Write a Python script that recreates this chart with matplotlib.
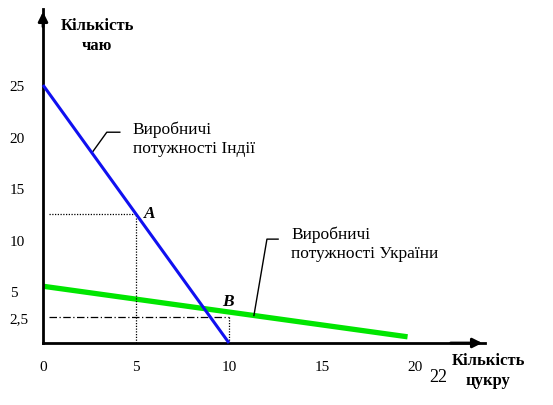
import numpy as np
import matplotlib.pyplot as plt

plt.rcParams['font.family'] = ['Liberation Serif', 'DejaVu Serif']

# production possibility lines (sugar on x, tea on y)
india_x = [0, 10]
india_y = [25, 0]
ukraine_x = [0, 19.6]
ukraine_y = [5.5, 0.6]

point_a = (5, 12.5)
point_b = (10, 2.5)

xticks = [0, 5, 10, 15, 20]
yticks = [2.5, 5, 10, 15, 20, 25]
ytick_labels = ['2,5', '5', '10', '15', '20', '25']

W, H = 553, 406
fig = plt.figure(figsize=(W / 100, H / 100), dpi=100)
ax = fig.add_axes([0, 0, 1, 1])

# pixel mapping of the reference: x=0 -> 43px, x=10 -> 229px; y=0 -> 344px, y=25 -> 86px
px_x = (229 - 43) / 10
px_y = (344 - 86) / 25
ax.set_xlim(-43 / px_x, (W - 43) / px_x)
ax.set_ylim(-(H - 344) / px_y, 344 / px_y)
x_end = (485 - 43) / px_x
y_end = (344 - 10) / px_y

for s in ['top', 'right']:
    ax.spines[s].set_visible(False)
ax.spines['left'].set_position(('data', 0))
ax.spines['bottom'].set_position(('data', 0))
ax.spines['left'].set_bounds(0, y_end)
ax.spines['bottom'].set_bounds(0, x_end)
ax.spines['left'].set_linewidth(2)
ax.spines['bottom'].set_linewidth(2)
ax.annotate('', xy=(0, y_end), xytext=(0, y_end - 2),
            arrowprops=dict(arrowstyle='-|>', color='black', lw=2, mutation_scale=14))
ax.annotate('', xy=(x_end, 0), xytext=(x_end - 2, 0),
            arrowprops=dict(arrowstyle='-|>', color='black', lw=2, mutation_scale=14))

ax.set_xticks(xticks)
ax.set_xticklabels([str(v) for v in xticks])
ax.set_yticks(yticks)
ax.set_yticklabels(ytick_labels)
ax.tick_params(axis='x', length=0, pad=12, labelsize=11)
ax.tick_params(axis='y', length=0, pad=24, labelsize=11)
for lbl in ax.get_yticklabels():
    lbl.set_horizontalalignment('left')

ax.plot(india_x, india_y, color='#1010f0', lw=2.2, solid_capstyle='butt', zorder=3)
ax.plot(ukraine_x, ukraine_y, color='#00e600', lw=3.8, solid_capstyle='butt', zorder=2)

# guide lines to points A and B
x0 = 0.3
ax.plot([x0, point_a[0]], [point_a[1], point_a[1]], color='black', lw=0.9, ls=(0, (1, 1.2)))
ax.plot([point_a[0], point_a[0]], [0, point_a[1]], color='black', lw=0.9, ls=(0, (1, 1.2)))
ax.plot([x0, point_b[0]], [point_b[1], point_b[1]], color='black', lw=0.9, ls=(0, (6, 2, 1, 2)))
ax.plot([point_b[0], point_b[0]], [0, point_b[1]], color='black', lw=0.9, ls=(0, (1, 1.2)))

ax.annotate('A', xy=point_a, xytext=(10, 1), textcoords='offset points',
            fontsize=12.5, fontweight='bold', fontstyle='italic', ha='center', va='center')
ax.annotate('B', xy=point_b, xytext=(-1, 12), textcoords='offset points',
            fontsize=12.5, fontweight='bold', fontstyle='italic', ha='center', va='center')

# leader lines with captions
ix = 2.63
iy = np.interp(ix, india_x, india_y)
ax.plot([ix, ix + 0.8, ix + 1.5], [iy, iy + 2.0, iy + 2.0], color='black', lw=1)
ax.text(ix + 2.2, iy + 1.4, 'Виробничі\nпотужності Індії', fontsize=12.5,
        va='center', ha='left', linespacing=1.2)

ux = 11.34
uy = np.interp(ux, ukraine_x, ukraine_y)
ax.plot([ux, ux + 0.7, ux + 1.3], [uy, uy + 7.4, uy + 7.4], color='black', lw=1)
ax.text(ux + 2.0, uy + 7.0, 'Виробничі\nпотужності України', fontsize=12.5,
        va='center', ha='left', linespacing=1.2)

fig.text(97 / W, 1 - 36 / H, 'Кількість\nчаю', fontsize=12, fontweight='bold',
         ha='center', va='center', linespacing=1.3)
fig.text(488 / W, 1 - 371 / H, 'Кількість\nцукру', fontsize=12, fontweight='bold',
         ha='center', va='center', linespacing=1.3)
fig.text(438 / W, 1 - 378 / H, '22', fontsize=13, ha='center', va='center')

fig.savefig('out.png', dpi=100, facecolor='white')
